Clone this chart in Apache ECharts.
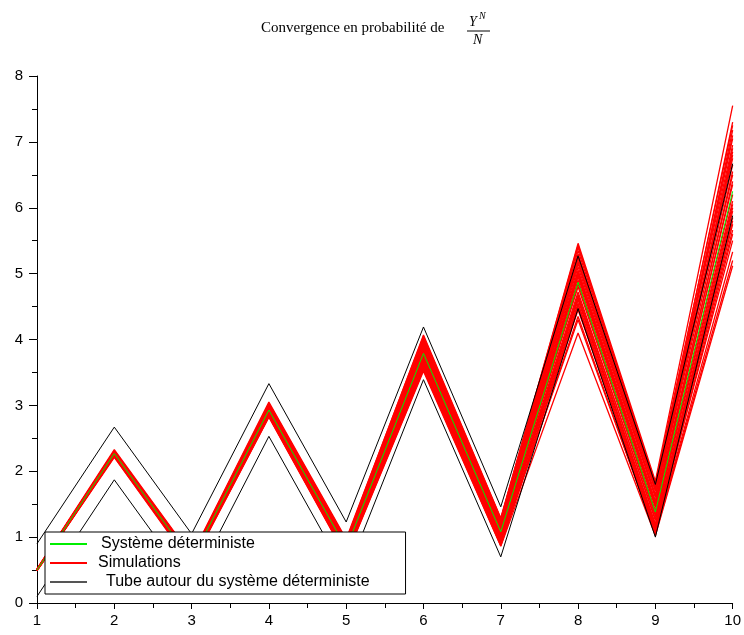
<!DOCTYPE html>
<html>
<head>
<meta charset="utf-8">
<script src="https://cdn.jsdelivr.net/npm/echarts@6/dist/echarts.min.js"></script>
<style>html,body{margin:0;padding:0;background:#fff}#chart{width:744px;height:635px}</style>
</head>
<body>
<div id="chart"></div>
<script>
const xValues = [1, 2, 3, 4, 5, 6, 7, 8, 9, 10];
const deterministic = [0.5, 2.27, 0.65, 2.93, 0.83, 3.79, 1.08, 4.87, 1.38, 6.25];
const tubeUpper = [0.9, 2.67, 1.05, 3.33, 1.23, 4.19, 1.46, 5.27, 1.80, 6.67];
const tubeLower = [0.1, 1.87, 0.25, 2.53, 0.43, 3.39, 0.70, 4.47, 1.00, 5.88];
const simulations = [
  [0.52, 2.33, 0.72, 3.05, 0.97, 4.05, 1.28, 5.46, 1.85, 7.55],
  [0.49, 2.21, 0.58, 2.82, 0.70, 3.52, 0.86, 4.10, 1.02, 5.12],
  [0.51, 2.30, 0.69, 3.00, 0.92, 3.98, 1.25, 5.30, 1.75, 7.30],
  [0.50, 2.25, 0.62, 2.88, 0.76, 3.62, 0.92, 4.30, 1.05, 5.33],
  [0.50, 2.28, 0.67, 2.97, 0.88, 3.90, 1.18, 5.10, 1.60, 7.18],
  [0.49, 2.24, 0.61, 2.86, 0.74, 3.60, 0.90, 4.45, 1.10, 5.50],
  [0.51, 2.29, 0.68, 2.99, 0.90, 3.95, 1.22, 5.22, 1.70, 7.05],
  [0.50, 2.26, 0.63, 2.90, 0.79, 3.70, 0.98, 4.60, 1.15, 5.66],
  [0.50, 2.27, 0.66, 2.95, 0.86, 3.85, 1.15, 5.00, 1.52, 6.90],
  [0.50, 2.26, 0.64, 2.91, 0.80, 3.74, 1.02, 4.72, 1.25, 5.85],
  [0.51, 2.31, 0.70, 3.02, 0.94, 4.00, 1.26, 5.35, 1.78, 6.95],
  [0.49, 2.23, 0.60, 2.84, 0.72, 3.56, 0.88, 4.52, 1.08, 5.75],
  [0.50, 2.28, 0.66, 2.94, 0.85, 3.82, 1.12, 4.95, 1.45, 6.55],
  [0.50, 2.25, 0.63, 2.89, 0.78, 3.68, 0.96, 4.62, 1.20, 6.00],
  [0.51, 2.29, 0.67, 2.98, 0.89, 3.92, 1.20, 5.18, 1.65, 6.80],
  [0.50, 2.27, 0.65, 2.92, 0.82, 3.76, 1.05, 4.80, 1.32, 6.10],
  [0.50, 2.26, 0.64, 2.93, 0.84, 3.80, 1.10, 4.90, 1.40, 6.40],
  [0.51, 2.30, 0.69, 3.01, 0.93, 4.02, 1.27, 5.40, 1.82, 7.25],
  [0.49, 2.22, 0.59, 2.83, 0.71, 3.54, 0.87, 4.35, 1.04, 5.20],
  [0.50, 2.28, 0.66, 2.96, 0.87, 3.88, 1.16, 5.05, 1.55, 6.65],
  [0.50, 2.24, 0.62, 2.87, 0.75, 3.64, 0.94, 4.55, 1.12, 5.95],
  [0.51, 2.31, 0.71, 3.03, 0.95, 4.07, 1.29, 5.43, 1.80, 7.10],
  [0.50, 2.27, 0.65, 2.94, 0.84, 3.83, 1.13, 4.98, 1.48, 6.35],
  [0.50, 2.25, 0.63, 2.90, 0.79, 3.72, 1.00, 4.68, 1.28, 6.05],
  [0.50, 2.29, 0.68, 2.97, 0.88, 3.93, 1.19, 5.15, 1.62, 6.75],
  [0.49, 2.24, 0.61, 2.85, 0.73, 3.58, 0.89, 4.48, 1.06, 5.60],
  [0.50, 2.26, 0.64, 2.92, 0.81, 3.78, 1.06, 4.84, 1.35, 6.20],
  [0.51, 2.30, 0.70, 3.00, 0.91, 3.97, 1.23, 5.25, 1.72, 6.85],
  [0.50, 2.27, 0.65, 2.95, 0.86, 3.86, 1.14, 5.02, 1.50, 6.50],
  [0.50, 2.25, 0.62, 2.88, 0.77, 3.66, 0.95, 4.65, 1.18, 5.80]
];
const legendNames = ['Système déterministe', 'Simulations', 'Tube autour du système déterministe'];
const titleText = 'Convergence en probabilité de';

function pairs(vals) { return vals.map((v, i) => [xValues[i], v]); }

const series = [];
simulations.forEach(s => series.push({
  name: legendNames[1], type: 'line', data: pairs(s), showSymbol: false, silent: true,
  lineStyle: { color: '#ff0000', width: 1.3 }, itemStyle: { color: '#ff0000' }, z: 2
}));
[tubeUpper, tubeLower].forEach(s => series.push({
  name: legendNames[2], type: 'line', data: pairs(s), showSymbol: false, silent: true,
  lineStyle: { color: '#000000', width: 1 }, itemStyle: { color: '#000000' }, z: 2
}));
series.push({
  name: legendNames[0], type: 'line', data: pairs(deterministic), showSymbol: false, silent: true,
  lineStyle: { color: '#00ee00', width: 1 }, itemStyle: { color: '#00ee00' }, z: 2
});

const chart = echarts.init(document.getElementById('chart'), null, { renderer: 'canvas' });
chart.setOption({
  animation: false,
  backgroundColor: '#fff',
  grid: { left: 37, right: 10, top: 76, bottom: 32, containLabel: false },
  xAxis: {
    type: 'value', min: 1, max: 10, interval: 1,
    axisLine: { show: true, onZero: true, lineStyle: { color: '#000', width: 1 } },
    axisTick: { show: true, length: 6, lineStyle: { color: '#000' } },
    minorTick: { show: true, splitNumber: 2, length: 5, lineStyle: { color: '#000' } },
    splitLine: { show: false },
    axisLabel: { fontSize: 15, color: '#000', margin: 10, fontFamily: 'Liberation Sans' }
  },
  yAxis: {
    type: 'value', min: 0, max: 8, interval: 1,
    axisLine: { show: true, lineStyle: { color: '#000', width: 1 } },
    axisTick: { show: true, length: 8, lineStyle: { color: '#000' } },
    minorTick: { show: true, splitNumber: 2, length: 5, lineStyle: { color: '#000' } },
    splitLine: { show: false },
    axisLabel: { fontSize: 15, color: '#000', margin: 14, fontFamily: 'Liberation Sans' }
  },
  legend: {
    orient: 'vertical', left: 45, top: 532, z: 20,
    padding: [4, 36, 4, 5], itemGap: 3, itemWidth: 37, itemHeight: 2, icon: 'rect',
    backgroundColor: '#fff', borderColor: '#000', borderWidth: 1, borderRadius: 0,
    selectedMode: false,
    textStyle: { fontSize: 16, lineHeight: 14, color: '#000', fontFamily: 'Liberation Sans', padding: [0, 0, 0, 9] },
    data: [
      { name: legendNames[0], itemStyle: { color: '#00ee00' }, textStyle: { padding: [0, 0, 0, 9] } },
      { name: legendNames[1], itemStyle: { color: '#ff0000' }, textStyle: { padding: [0, 0, 0, 6] } },
      { name: legendNames[2], itemStyle: { color: '#555555' }, textStyle: { padding: [0, 0, 0, 14] } }
    ]
  },
  graphic: [
    { type: 'text', left: 261, top: 21, style: { text: titleText, font: '15px "Liberation Serif"', fill: '#000' } },
    { type: 'text', left: 469, top: 15, style: { text: 'Y', font: 'italic 14px "Liberation Serif"', fill: '#000' } },
    { type: 'text', left: 479, top: 11, style: { text: 'N', font: 'italic 10px "Liberation Serif"', fill: '#000' } },
    { type: 'line', shape: { x1: 467, y1: 31, x2: 490, y2: 31 }, style: { stroke: '#000', lineWidth: 1 } },
    { type: 'text', left: 473, top: 33, style: { text: 'N', font: 'italic 14px "Liberation Serif"', fill: '#000' } }
  ],
  series: series
});
</script>
</body>
</html>
